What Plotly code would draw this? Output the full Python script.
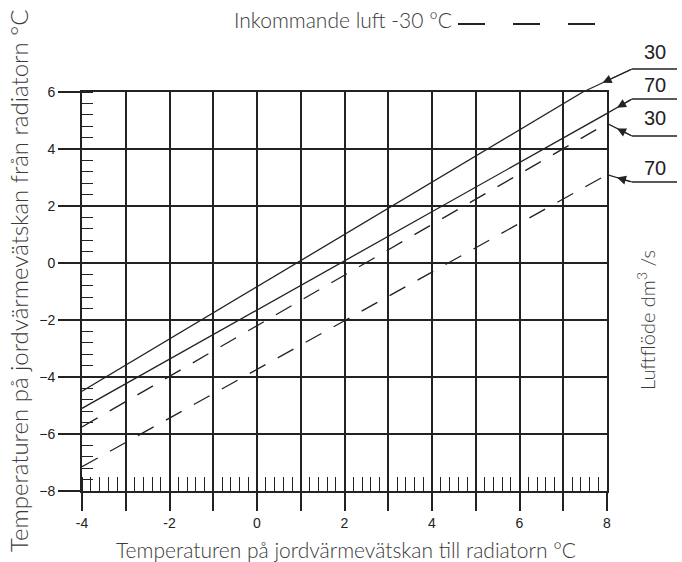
import plotly.graph_objects as go

# ---- data ----
x_solid30 = [-4, 7.45]
y_solid30 = [-4.5, 6.0]
x_solid70 = [-4, 8]
y_solid70 = [-5.1, 5.25]
x_dash30 = [-4, 8]
y_dash30 = [-5.75, 4.9]
x_dash70 = [-4, 8]
y_dash70 = [-7.15, 3.1]

flow_labels = ["30", "70", "30", "70"]
x_tickvals = list(range(-4, 9))
x_ticktext = [str(v) if v % 2 == 0 else "" for v in x_tickvals]
y_tickvals = list(range(-8, 7, 2))

INK = "#222222"
TXT = "#3a3a3a"
LIGHT_FONT = dict(family="Lato, 'Open Sans', sans-serif", size=21, color=TXT, weight=300)

# plot-area geometry (pixels)
L, R, T, B = 82, 607, 92, 491
XMIN, XMAX, YMIN, YMAX = -4, 8, -8, 6

def px_x(p):
    return (p - L) / float(R - L)

def px_y(p):
    return (B - p) / float(B - T)

def data_to_px(x, y):
    return (L + (x - XMIN) * (R - L) / (XMAX - XMIN),
            B - (y - YMIN) * (B - T) / (YMAX - YMIN))

fig = go.Figure()
series = [
    (x_solid30, y_solid30, "solid"),
    (x_solid70, y_solid70, "solid"),
    (x_dash30, y_dash30, "18px,14px"),
    (x_dash70, y_dash70, "18px,14px"),
]
for xs, ys, dash in series:
    fig.add_trace(go.Scatter(x=xs, y=ys, mode="lines",
                             line=dict(color=INK, width=1.3, dash=dash),
                             showlegend=False, hoverinfo="skip", cliponaxis=False))

fig.update_layout(
    width=682, height=562,
    margin=dict(l=L, r=682 - R, t=T, b=562 - B),
    paper_bgcolor="white", plot_bgcolor="white",
    font=dict(family="Liberation Sans, Arial, sans-serif", size=14, color=INK),
    xaxis=dict(
        range=[XMIN, XMAX], tickmode="array", tickvals=x_tickvals, ticktext=x_ticktext,
        ticks="outside", ticklen=18, tickwidth=1.5, tickcolor=INK,
        showgrid=True, gridcolor=INK, gridwidth=1.5,
        showline=True, linecolor=INK, linewidth=2, mirror=True,
        zeroline=False, fixedrange=True,
        minor=dict(tickmode="linear", tick0=0, dtick=0.2, ticks="inside",
                   ticklen=14, tickwidth=1.3, tickcolor=INK, showgrid=False),
    ),
    yaxis=dict(
        range=[YMIN, YMAX], tickmode="array", tickvals=y_tickvals,
        ticks="outside", ticklen=22, tickwidth=1.5, tickcolor=INK,
        showgrid=True, gridcolor=INK, gridwidth=1.5,
        showline=True, linecolor=INK, linewidth=2, mirror=True,
        zeroline=False, fixedrange=True,
        minor=dict(tickmode="linear", tick0=0, dtick=0.4, ticks="inside",
                   ticklen=11, tickwidth=1.3, tickcolor=INK, showgrid=False),
    ),
)

# Axis titles
fig.add_annotation(text="Temperaturen på jordvärmevätskan till radiatorn °C",
                   xref="paper", yref="paper", x=px_x(346), y=px_y(549),
                   showarrow=False, font=LIGHT_FONT, xanchor="center", yanchor="middle")
fig.add_annotation(text="Temperaturen på jordvärmevätskan från radiatorn °C",
                   xref="paper", yref="paper", x=px_x(18), y=px_y(281),
                   showarrow=False, font=dict(LIGHT_FONT, size=24), textangle=-90,
                   xanchor="center", yanchor="middle")
fig.add_annotation(text="Luftflöde dm<sup>3</sup> /s",
                   xref="paper", yref="paper", x=px_x(646), y=px_y(320),
                   showarrow=False, font=dict(LIGHT_FONT, size=20), textangle=-90,
                   xanchor="center", yanchor="middle")
# Top header
fig.add_annotation(text="Inkommande luft -30 °C",
                   xref="paper", yref="paper", x=px_x(454), y=px_y(19),
                   showarrow=False, font=LIGHT_FONT, xanchor="right", yanchor="middle")
fig.add_shape(type="line", xref="paper", yref="paper",
              x0=px_x(458), x1=px_x(596), y0=px_y(24), y1=px_y(24),
              line=dict(color=INK, width=2, dash="27px,28px"))

# Flow labels, underlines, leader lines and arrowheads
label_y = [52, 85, 118, 168]
under_y = [69, 99, 136, 182]
ends = [(x_solid30[-1], y_solid30[-1]), (x_solid70[-1], y_solid70[-1]),
        (x_dash30[-1], y_dash30[-1]), (x_dash70[-1], y_dash70[-1])]
for lab, ly, uy, (ex, ey) in zip(flow_labels, label_y, under_y, ends):
    fig.add_annotation(text=lab, xref="paper", yref="paper", x=px_x(655), y=px_y(ly),
                       showarrow=False, font=dict(family="Liberation Sans, Arial, sans-serif",
                                                  size=20, color=INK),
                       xanchor="center", yanchor="middle")
    fig.add_shape(type="line", xref="paper", yref="paper",
                  x0=px_x(632), x1=px_x(677), y0=px_y(uy), y1=px_y(uy),
                  line=dict(color=INK, width=1.3))
    epx, epy = data_to_px(ex, ey)
    fig.add_shape(type="line", xref="paper", yref="paper",
                  x0=px_x(632), y0=px_y(uy), x1=px_x(epx), y1=px_y(epy),
                  line=dict(color=INK, width=1.2))
    # arrowhead partway along the leader, pointing toward the line end
    t = 0.4
    hx, hy = epx + t * (632 - epx), epy + t * (uy - epy)
    fig.add_annotation(text="", xref="paper", yref="paper", x=px_x(hx), y=px_y(hy),
                       ax=632 - hx, ay=uy - hy,
                       showarrow=True, arrowhead=2, arrowsize=1.5, arrowwidth=1.2,
                       arrowcolor=INK, standoff=0)

fig.write_html("out.html")
